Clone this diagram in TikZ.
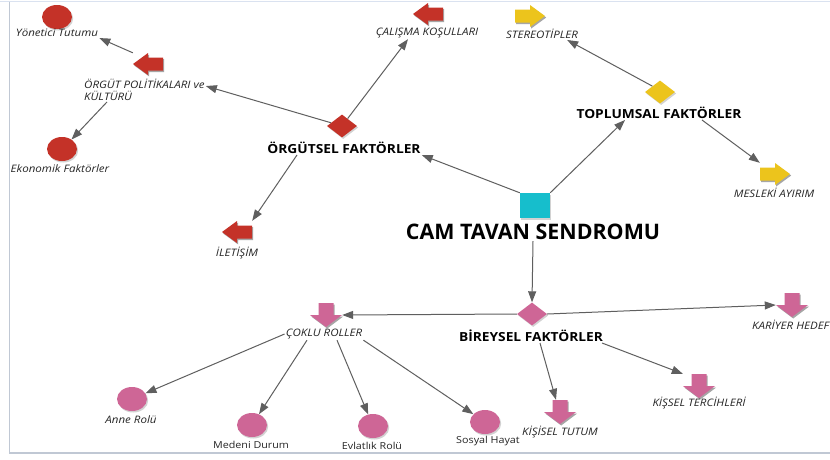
\documentclass[tikz,border=0pt]{standalone}
\usepackage{fontspec}
\setmainfont{Open Sans}
\newfontfamily\lblfont[FakeStretch=1.12]{Open Sans}
\newfontfamily\bldfont[FakeStretch=1.1]{Open Sans}
\usetikzlibrary{arrows.meta,shapes.geometric,shadows,calc}
\definecolor{cred}{RGB}{196,50,40}
\definecolor{cyel}{RGB}{236,196,28}
\definecolor{cpink}{RGB}{206,102,150}
\definecolor{ccyan}{RGB}{22,190,204}
\definecolor{cgray}{RGB}{95,95,95}
\definecolor{ctop}{RGB}{218,226,240}
\definecolor{cframe}{RGB}{192,200,212}
\tikzset{
  conn/.style={draw=cgray, line width=1pt, -{Triangle[length=11pt,width=8pt]}},
  lbl/.style={font=\lblfont\fontsize{10.3}{12}\selectfont\itshape, inner sep=1pt, text=black!85},
  ulbl/.style={font=\lblfont\fontsize{9.6}{11}\selectfont, inner sep=1pt, text=black!85},
  blbl/.style={font=\bldfont\fontsize{12.5}{14}\selectfont\bfseries, inner sep=1pt},
  biglbl/.style={font=\fontsize{21.4}{24}\selectfont\bfseries, inner sep=1pt},
  shade3d/.style={drop shadow={shadow xshift=1.2pt, shadow yshift=-1.5pt, opacity=.35}},
  spot/.style={ellipse, minimum width=30pt, minimum height=24pt, inner sep=0pt, shade3d},
  dia/.style={diamond, minimum width=30pt, minimum height=23pt, inner sep=0pt, shade3d},
  sq/.style={rectangle, minimum width=30pt, minimum height=25pt, inner sep=0pt, shade3d},
  holdh/.style={rectangle, minimum width=30pt, minimum height=22pt, inner sep=0pt},
  holdv/.style={rectangle, minimum width=32pt, minimum height=24pt, inner sep=0pt},
  shadowfill/.style={fill=black!35},
}
\newcommand\arrLeft[3]{%
  \node[holdh] (#1) at (#2) {};
  \begin{scope}[shift={(#2)}]
    \fill[shadowfill] (-13.8,1.5)--(1.2,-9.5)--(1.2,-5)--(16.2,-5)--(16.2,8)--(1.2,8)--(1.2,12.5)--cycle;
    \fill[#3] (-15,0)--(0,-11)--(0,-6.5)--(15,-6.5)--(15,6.5)--(0,6.5)--(0,11)--cycle;
  \end{scope}}
\newcommand\arrRight[3]{%
  \node[holdh] (#1) at (#2) {};
  \begin{scope}[shift={(#2)}]
    \fill[shadowfill] (16.2,1.5)--(1.2,-9.5)--(1.2,-5)--(-13.8,-5)--(-13.8,8)--(1.2,8)--(1.2,12.5)--cycle;
    \fill[#3] (15,0)--(0,-11)--(0,-6.5)--(-15,-6.5)--(-15,6.5)--(0,6.5)--(0,11)--cycle;
  \end{scope}}
\newcommand\arrDown[3]{%
  \node[holdv] (#1) at (#2) {};
  \begin{scope}[shift={(#2)}]
    \fill[shadowfill] (1.2,13.5)--(-14.8,1.5)--(-6.3,1.5)--(-6.3,-10.5)--(8.7,-10.5)--(8.7,1.5)--(17.2,1.5)--cycle;
    \fill[#3] (0,12)--(-16,0)--(-7.5,0)--(-7.5,-12)--(7.5,-12)--(7.5,0)--(16,0)--cycle;
  \end{scope}}
\begin{document}
\begin{tikzpicture}[x=1pt,y=-1pt]
\useasboundingbox (0,0) rectangle (830,459);
\fill[white] (0,0) rectangle (830,459);
% frame
\draw[ctop, line width=1.5pt] (0,1.5) -- (830,1.5);
\draw[cframe, line width=1pt] (9,1.5) -- (9,453);
\draw[cframe, line width=1.5pt] (9,453) -- (830,453);

% ---- organisational branch
\node[spot, fill=cred] (yoncirc) at (57,17) {};
\node[lbl] (yonlbl) at (57,33) {Yönetici Tutumu};
\arrLeft{orgarrow}{148,64}{cred}
\node[lbl, anchor=west, align=left] (orglbl) at (83,90) {ÖRGÜT POLİTİKALARI ve\\KÜLTÜRÜ};
\node[spot, fill=cred] (ekocirc) at (62,149) {};
\node[lbl] (ekolbl) at (60,169) {Ekonomik Faktörler};
\node[dia, fill=cred] (odiam) at (342,126) {};
\node[blbl] (olbl) at (344,148) {ÖRGÜTSEL FAKTÖRLER};
\arrLeft{calarrow}{428,14}{cred}
\node[lbl] (callbl) at (427,33) {ÇALIŞMA KOŞULLARI};
\arrLeft{iletarrow}{237,232}{cred}
\node[lbl] (iletlbl) at (237,253) {İLETİŞİM};

% ---- centre
\node[sq, fill=ccyan] (camsq) at (535,205.5) {};
\node[biglbl] (camlbl) at (533,232) {CAM TAVAN SENDROMU};

% ---- social branch
\node[dia, fill=cyel] (topdiam) at (660,92) {};
\node[blbl] (toplbl) at (659,113) {TOPLUMSAL FAKTÖRLER};
\arrRight{sterarrow}{530,16}{cyel}
\node[lbl] (sterlbl) at (542,34) {STEREOTİPLER};
\arrRight{mesarrow}{775,174}{cyel}
\node[lbl] (meslbl) at (774,193) {MESLEKİ AYIRIM};

% ---- individual branch
\node[dia, fill=cpink] (birdiam) at (532,314) {};
\node[blbl] (birlbl) at (531,336) {BİREYSEL FAKTÖRLER};
\arrDown{karrow}{792,305}{cpink}
\node[lbl, anchor=west] (karlbl) at (751,325) {KARİYER HEDEF};
\arrDown{tutarrow}{560,412}{cpink}
\node[lbl] (tutlbl) at (560,432) {KİŞİSEL TUTUM};
\arrDown{terarrow}{699,386}{cpink}
\node[lbl] (terlbl) at (699,403) {KİŞSEL TERCİHLERİ};
\arrDown{coklarrow}{326,315}{cpink}
\node[lbl] (coklbl) at (324,334) {ÇOKLU ROLLER};
\node[spot, fill=cpink] (annecirc) at (132,399) {};
\node[lbl] (annelbl) at (131,420) {Anne Rolü};
\node[spot, fill=cpink] (medcirc) at (252,425) {};
\node[ulbl] (medlbl) at (251,445) {Medeni Durum};
\node[spot, fill=cpink] (evlcirc) at (373,426) {};
\node[ulbl] (evllbl) at (372,446) {Evlatlık Rolü};
\node[spot, fill=cpink] (soscirc) at (485,422) {};
\node[ulbl] (soslbl) at (488,441) {Sosyal Hayat};

% ---- connectors
\draw[conn] (orgarrow.north west) -- (yonlbl.south east);
\draw[conn] ([xshift=24pt]orglbl.south west) -- (ekocirc.45);
\draw[conn] (odiam) -- ([yshift=-8pt]orglbl.north east);
\draw[conn] (odiam) -- ([xshift=-19pt]callbl.south);
\draw[conn] ([xshift=-47pt]olbl.south) -- (iletarrow.north east);
\draw[conn] (camsq.north west) -- (olbl.south east);
\draw[conn] (camsq.north east) -- ([xshift=-34pt]toplbl.south);
\draw[conn] (topdiam.north west) -- ([xshift=-12pt]sterlbl.south east);
\draw[conn] ([xshift=43pt]toplbl.south) -- (mesarrow.north west);
\draw[conn] (camlbl.south) -- (birdiam.north);
\draw[conn] (birdiam.west) -- (coklarrow.east);
\draw[conn] (birdiam.east) -- (karrow.west);
\draw[conn] ([xshift=9pt]birlbl.south) -- ([xshift=-4pt]tutarrow.north);
\draw[conn] ([xshift=-2pt]birlbl.south east) -- (terarrow.north west);
\draw[conn] (coklbl.west) -- (annecirc);
\draw[conn] ([xshift=-17pt]coklbl.south) -- (medcirc);
\draw[conn] ([xshift=13pt]coklbl.south) -- (evlcirc);
\draw[conn] (coklbl.south east) -- (soscirc);
\end{tikzpicture}
\end{document}
